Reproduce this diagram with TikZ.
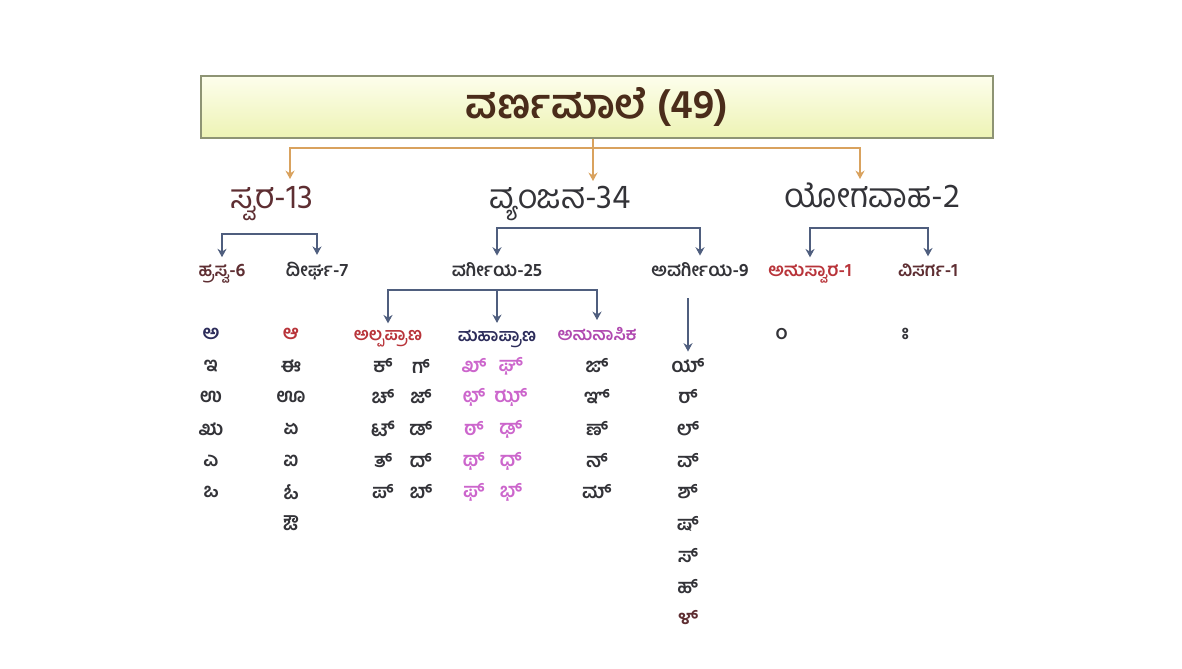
\documentclass[tikz,border=0pt]{standalone}
\usepackage{fontspec}
\usepackage{tikz}
\usetikzlibrary{arrows.meta}
\newfontfamily\kn[Script=Kannada]{Hind Mysuru}

\definecolor{orline}{HTML}{D9A25E}
\definecolor{blline}{HTML}{4F5E7E}
\definecolor{boxtop}{HTML}{FDFEEC}
\definecolor{boxbot}{HTML}{EDF3B4}
\definecolor{boxedge}{HTML}{8E9474}
\definecolor{titletxt}{HTML}{4A2C1A}
\definecolor{maroon}{HTML}{5E2E32}
\definecolor{darktxt}{HTML}{333338}
\definecolor{redtxt}{HTML}{B8343A}
\definecolor{navytxt}{HTML}{2C2C5A}
\definecolor{purptxt}{HTML}{B04AB0}
\definecolor{pinktxt}{HTML}{CC66CC}

\tikzset{
    >={Stealth[length=6pt, width=6.5pt, inset=2pt]},
    titlebox/.style={draw=boxedge, line width=1pt, top color=boxtop, bottom color=boxbot,
        minimum width=19.8cm, minimum height=1.55cm, text=titletxt,
        font=\kn\fontsize{29}{32}\selectfont\bfseries},
    head/.style={text=darktxt, inner sep=1pt, font=\kn\fontsize{24}{28}\selectfont},
    sublabel/.style={text=darktxt, inner sep=1pt, font=\kn\fontsize{13}{15}\selectfont\bfseries},
    grouplabel/.style={text=darktxt, inner sep=1pt, font=\kn\fontsize{12.5}{15}\selectfont\bfseries},
    letter/.style={text=darktxt, inner sep=1pt, font=\kn\fontsize{14}{16}\selectfont\bfseries},
    orarrow/.style={draw=orline, thick},
    blarrow/.style={draw=blline, thick, shorten >=4pt, shorten <=4pt}
}

\begin{document}
\begin{tikzpicture}[x=0.025cm, y=-0.025cm]
        \useasboundingbox (0,0) rectangle (1182,669);

        \node [titlebox] (title) at (597,107) {ವರ್ಣಮಾಲೆ (49)};

        \node [head, text=maroon] (svara) at (272,203) {ಸ್ವರ-13};
        \node [head] (vyanjana) at (560,203) {ವ್ಯಂಜನ-34};
        \node [head] (yoga) at (872,195) {ಯೋಗವಾಹ-2};

        % orange links from the title
        \coordinate (obar) at (0,148);
        \coordinate (svin) at (290,179);
        \coordinate (vyin) at (593,181);
        \coordinate (yoin) at (860,179);
        \draw [orarrow, <->] (svin) -- (svin |- obar) -| (yoin);
        \draw [orarrow, ->] (title.south -| vyin) -- (vyin);

        \node [sublabel, text=maroon] (hrasva) at (222,274) {ಹ್ರಸ್ವ-6};
        \node [sublabel] (dirgha) at (317,271) {ದೀರ್ಘ-7};
        \node [sublabel] (vargiya) at (497,270) {ವರ್ಗೀಯ-25};
        \node [sublabel] (avargiya) at (700,270) {ಅವರ್ಗೀಯ-9};
        \node [sublabel, text=redtxt] (anusvara) at (810,274) {ಅನುಸ್ವಾರ-1};
        \node [sublabel, text=maroon] (visarga) at (928,270) {ವಿಸರ್ಗ-1};

        \coordinate (svbar) at (0,234);
        \coordinate (vybar) at (0,228);
        \draw [blarrow, <->] (hrasva.north) -- (hrasva.north |- svbar) -| (dirgha.north);
        \draw [blarrow, <->] (vargiya.north) -- (vargiya.north |- vybar) -| (avargiya.north);
        \draw [blarrow, <->] (anusvara.north) -- (anusvara.north |- vybar) -| (visarga.north);

        \node [grouplabel, text=redtxt] (alpa) at (388,339) {ಅಲ್ಪಪ್ರಾಣ};
        \node [grouplabel, text=navytxt] (maha) at (497,339) {ಮಹಾಪ್ರಾಣ};
        \node [grouplabel, text=purptxt] (anuna) at (597,334) {ಅನುನಾಸಿಕ};

        \coordinate (vgbar) at (0,290);
        \draw [blarrow, <->] (alpa.north) -- (alpa.north |- vgbar) -| (anuna.north);
        \draw [blarrow, ->, shorten <=0pt] (maha.north |- vgbar) -- (maha.north);

        % hrasva
        \node [letter, text=navytxt] (hr1) at (211,334) {ಅ};
        \node [letter] (hr2) at (211,366) {ಇ};
        \node [letter] (hr3) at (211,397) {ಉ};
        \node [letter] (hr4) at (211,429) {ಋ};
        \node [letter] (hr5) at (211,461) {ಎ};
        \node [letter] (hr6) at (211,492) {ಒ};

        % dirgha
        \node [letter, text=redtxt] (di1) at (291,334) {ಆ};
        \node [letter] (di2) at (291,366) {ಈ};
        \node [letter] (di3) at (291,397) {ಊ};
        \node [letter] (di4) at (291,429) {ಏ};
        \node [letter] (di5) at (291,461) {ಐ};
        \node [letter] (di6) at (291,492) {ಓ};
        \node [letter] (di7) at (291,523) {ಔ};

        % alpaprana
        \node [letter] (al1) at (383,366) {ಕ್};
        \node [letter] (al2) at (421,366) {ಗ್};
        \node [letter] (al3) at (383,397) {ಚ್};
        \node [letter] (al4) at (421,397) {ಜ್};
        \node [letter] (al5) at (383,429) {ಟ್};
        \node [letter] (al6) at (421,429) {ಡ್};
        \node [letter] (al7) at (383,461) {ತ್};
        \node [letter] (al8) at (421,461) {ದ್};
        \node [letter] (al9) at (383,492) {ಪ್};
        \node [letter] (al10) at (421,492) {ಬ್};

        % mahaprana
        \node [letter, text=pinktxt] (ma1) at (474,366) {ಖ್};
        \node [letter, text=pinktxt] (ma2) at (511,366) {ಘ್};
        \node [letter, text=pinktxt] (ma3) at (474,397) {ಛ್};
        \node [letter, text=pinktxt] (ma4) at (511,397) {ಝ್};
        \node [letter, text=pinktxt] (ma5) at (474,429) {ಠ್};
        \node [letter, text=pinktxt] (ma6) at (511,429) {ಢ್};
        \node [letter, text=pinktxt] (ma7) at (474,461) {ಥ್};
        \node [letter, text=pinktxt] (ma8) at (511,461) {ಧ್};
        \node [letter, text=pinktxt] (ma9) at (474,492) {ಫ್};
        \node [letter, text=pinktxt] (ma10) at (511,492) {ಭ್};

        % anunasika
        \node [letter] (an1) at (597,366) {ಙ್};
        \node [letter] (an2) at (597,397) {ಞ್};
        \node [letter] (an3) at (597,429) {ಣ್};
        \node [letter] (an4) at (597,461) {ನ್};
        \node [letter] (an5) at (597,492) {ಮ್};

        % avargiya
        \node [letter] (av1) at (688,366) {ಯ್};
        \node [letter] (av2) at (688,397) {ರ್};
        \node [letter] (av3) at (688,429) {ಲ್};
        \node [letter] (av4) at (688,461) {ವ್};
        \node [letter] (av5) at (688,492) {ಶ್};
        \node [letter] (av6) at (688,524) {ಷ್};
        \node [letter] (av7) at (688,556) {ಸ್};
        \node [letter] (av8) at (688,587) {ಹ್};
        \node [letter, text=maroon] (av9) at (688,618) {ಳ್};

        \coordinate (avtop) at (688,298);
        \draw [blarrow, ->, shorten <=0pt] (avtop) -- (av1.north);

        % yogavaha
        \node [letter] (yg1) at (779,334) {^^^^00a0ಂ};
        \node [letter] (yg2) at (903,334) {^^^^00a0ಃ};
    \end{tikzpicture}
\end{document}
